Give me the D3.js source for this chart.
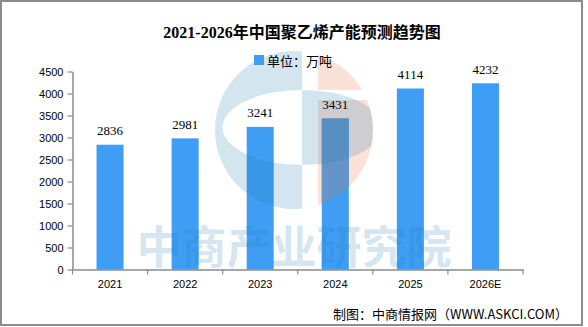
<!DOCTYPE html>
<html><head><meta charset="utf-8">
<script src="https://cdn.jsdelivr.net/npm/d3@7"></script>
<style>body{margin:0;background:#fff} svg{display:block}</style>
</head><body>
<script>
const categories = ["2021","2022","2023","2024","2025","2026E"];
const values = [2836, 2981, 3241, 3431, 4114, 4232];
const yTicks = [0, 500, 1000, 1500, 2000, 2500, 3000, 3500, 4000, 4500];
const titleText = "2021-2026年中国聚乙烯产能预测趋势图";
const legendLabel = "单位：万吨";
const sourceText = "制图：中商情报网（WWW.ASKCI.COM）";
const watermarkText = "中商产业研究院";

const W = 588, H = 327;
const barColor = "#3f9ef4";
const axisColor = "#8a8a8a";

const svg = d3.select("body").append("svg").attr("width", W).attr("height", H);
svg.append("rect").attr("width", W).attr("height", H).attr("fill", "#fff");

const x = d3.scaleBand().domain(categories).range([72.5, 523]).paddingInner(0.64).paddingOuter(0.32);
const y = d3.scaleLinear().domain([0, 4500]).range([269.5, 71.5]);
const data = categories.map((c, i) => ({c, v: values[i]}));

const defs = svg.append("defs");
// logo geometry (watermark)
const L = {cx: 294, cy: 130, r: 79, cSplit: 302, sSplit: 318, holeCy: 127.5, holeRx: 79.5, holeRy: 37.5, bandTop: 90, bandBot: 100};
defs.append("clipPath").attr("id", "logoCircle").append("circle")
  .attr("cx", L.cx).attr("cy", L.cy).attr("r", L.r);
defs.append("clipPath").attr("id", "barsClip").selectAll("rect").data(data).join("rect")
  .attr("x", d => x(d.c)).attr("width", x.bandwidth())
  .attr("y", d => y(d.v)).attr("height", d => y(0) - y(d.v));

function salmonShapes(g, fill) {
  const t = L.cy - L.r - 2, b = L.cy + L.r + 2, rr = L.cx + L.r + 2;
  g.append("rect").attr("x", L.sSplit).attr("y", t).attr("width", rr - L.sSplit).attr("height", L.bandTop - t).attr("fill", fill);
  g.append("rect").attr("x", L.sSplit).attr("y", L.bandBot).attr("width", rr - L.sSplit).attr("height", b - L.bandBot).attr("fill", fill);
}

// salmon half of the logo beneath the bars
salmonShapes(svg.append("g").attr("clip-path", "url(#logoCircle)"), "#fbe2d8");

// bars
svg.append("g").selectAll("rect").data(data).join("rect")
  .attr("x", d => x(d.c)).attr("width", x.bandwidth())
  .attr("y", d => y(d.v)).attr("height", d => y(0) - y(d.v))
  .attr("fill", barColor);

// salmon over bars
salmonShapes(svg.append("g").attr("clip-path", "url(#barsClip)").append("g").attr("clip-path", "url(#logoCircle)"), "#6494c9");

// blue C of the logo
{
  const t = L.cy - L.r - 2, b = L.cy + L.r + 2, l = L.cx - L.r - 2;
  const hx = L.cSplit, hy = L.holeCy, rx = L.holeRx, ry = L.holeRy;
  const p = `M${l},${t}H${L.cSplit}V${b}H${l}Z` +
    `M${hx - rx},${hy}A${rx},${ry} 0 1,0 ${hx + rx},${hy}A${rx},${ry} 0 1,0 ${hx - rx},${hy}Z`;
  svg.append("g").attr("clip-path", "url(#logoCircle)").append("path")
    .attr("d", p).attr("fill-rule", "evenodd")
    .attr("fill", "rgb(35,125,175)").attr("fill-opacity", 0.2);
}

// watermark text
svg.append("text").attr("x", 294).attr("y", 264).attr("text-anchor", "middle")
  .attr("font-family", "'Noto Sans CJK SC'").attr("font-weight", "bold").attr("font-size", 45)
  .attr("fill", "rgb(35,125,175)").attr("fill-opacity", 0.2).text(watermarkText);

// y axis
const yAxis = svg.append("g").attr("transform", `translate(${x.range()[0]},0)`)
  .call(d3.axisLeft(y).tickValues(yTicks).tickFormat(d3.format("d")).tickSize(5).tickPadding(4).tickSizeOuter(0));
yAxis.select(".domain").attr("stroke", axisColor).attr("stroke-width", 1.5);
yAxis.selectAll(".tick line").attr("stroke", axisColor).attr("stroke-width", 1.2);
yAxis.selectAll(".tick text").attr("font-family", "'Liberation Sans', Arial, sans-serif").attr("font-size", 11).attr("fill", "#000");

// x axis
const xAxis = svg.append("g").attr("transform", `translate(0,${y(0)})`)
  .call(d3.axisBottom(x).tickSize(0).tickPadding(11).tickSizeOuter(0));
xAxis.select(".domain").attr("stroke", axisColor).attr("stroke-width", 1.5);
xAxis.selectAll(".tick text").attr("font-family", "'Liberation Sans', Arial, sans-serif").attr("font-size", 11).attr("fill", "#000");
const boundaries = d3.range(categories.length + 1).map(i => x.range()[0] + i * x.step());
xAxis.selectAll(".bound").data(boundaries).join("line").attr("class", "bound")
  .attr("x1", d => d).attr("x2", d => d).attr("y1", 0).attr("y2", 5)
  .attr("stroke", axisColor).attr("stroke-width", 1.2);

// data labels
svg.append("g").selectAll("text").data(data).join("text")
  .attr("x", d => x(d.c) + x.bandwidth() / 2).attr("y", d => y(d.v) - 14)
  .attr("text-anchor", "middle").attr("dominant-baseline", "central")
  .attr("font-family", "'Liberation Serif', serif").attr("font-size", 13).attr("fill", "#000")
  .text(d => d.v);

// title
svg.append("text").attr("x", 302).attr("y", 32).attr("text-anchor", "middle").attr("dominant-baseline", "central")
  .attr("font-family", "'Liberation Serif', 'Noto Sans CJK SC', serif").attr("font-weight", "bold").attr("font-size", 16)
  .attr("fill", "#000").text(titleText);

// legend
svg.append("rect").attr("x", 254).attr("y", 55).attr("width", 10).attr("height", 10).attr("fill", barColor);
svg.append("text").attr("x", 267).attr("y", 60.5).attr("dominant-baseline", "central")
  .attr("font-family", "'Noto Sans CJK SC', sans-serif").attr("font-size", 13).attr("fill", "#000").text(legendLabel);

// source
svg.append("text").attr("x", 568).attr("y", 313).attr("text-anchor", "end").attr("dominant-baseline", "central")
  .attr("font-family", "'Noto Sans CJK SC', sans-serif").attr("font-size", 13).attr("fill", "#000").text(sourceText);

// border
svg.append("rect").attr("x", 1).attr("y", 1).attr("width", 581).attr("height", 324)
  .attr("fill", "none").attr("stroke", "#8c8c8c").attr("stroke-width", 2);
</script>
</body></html>
